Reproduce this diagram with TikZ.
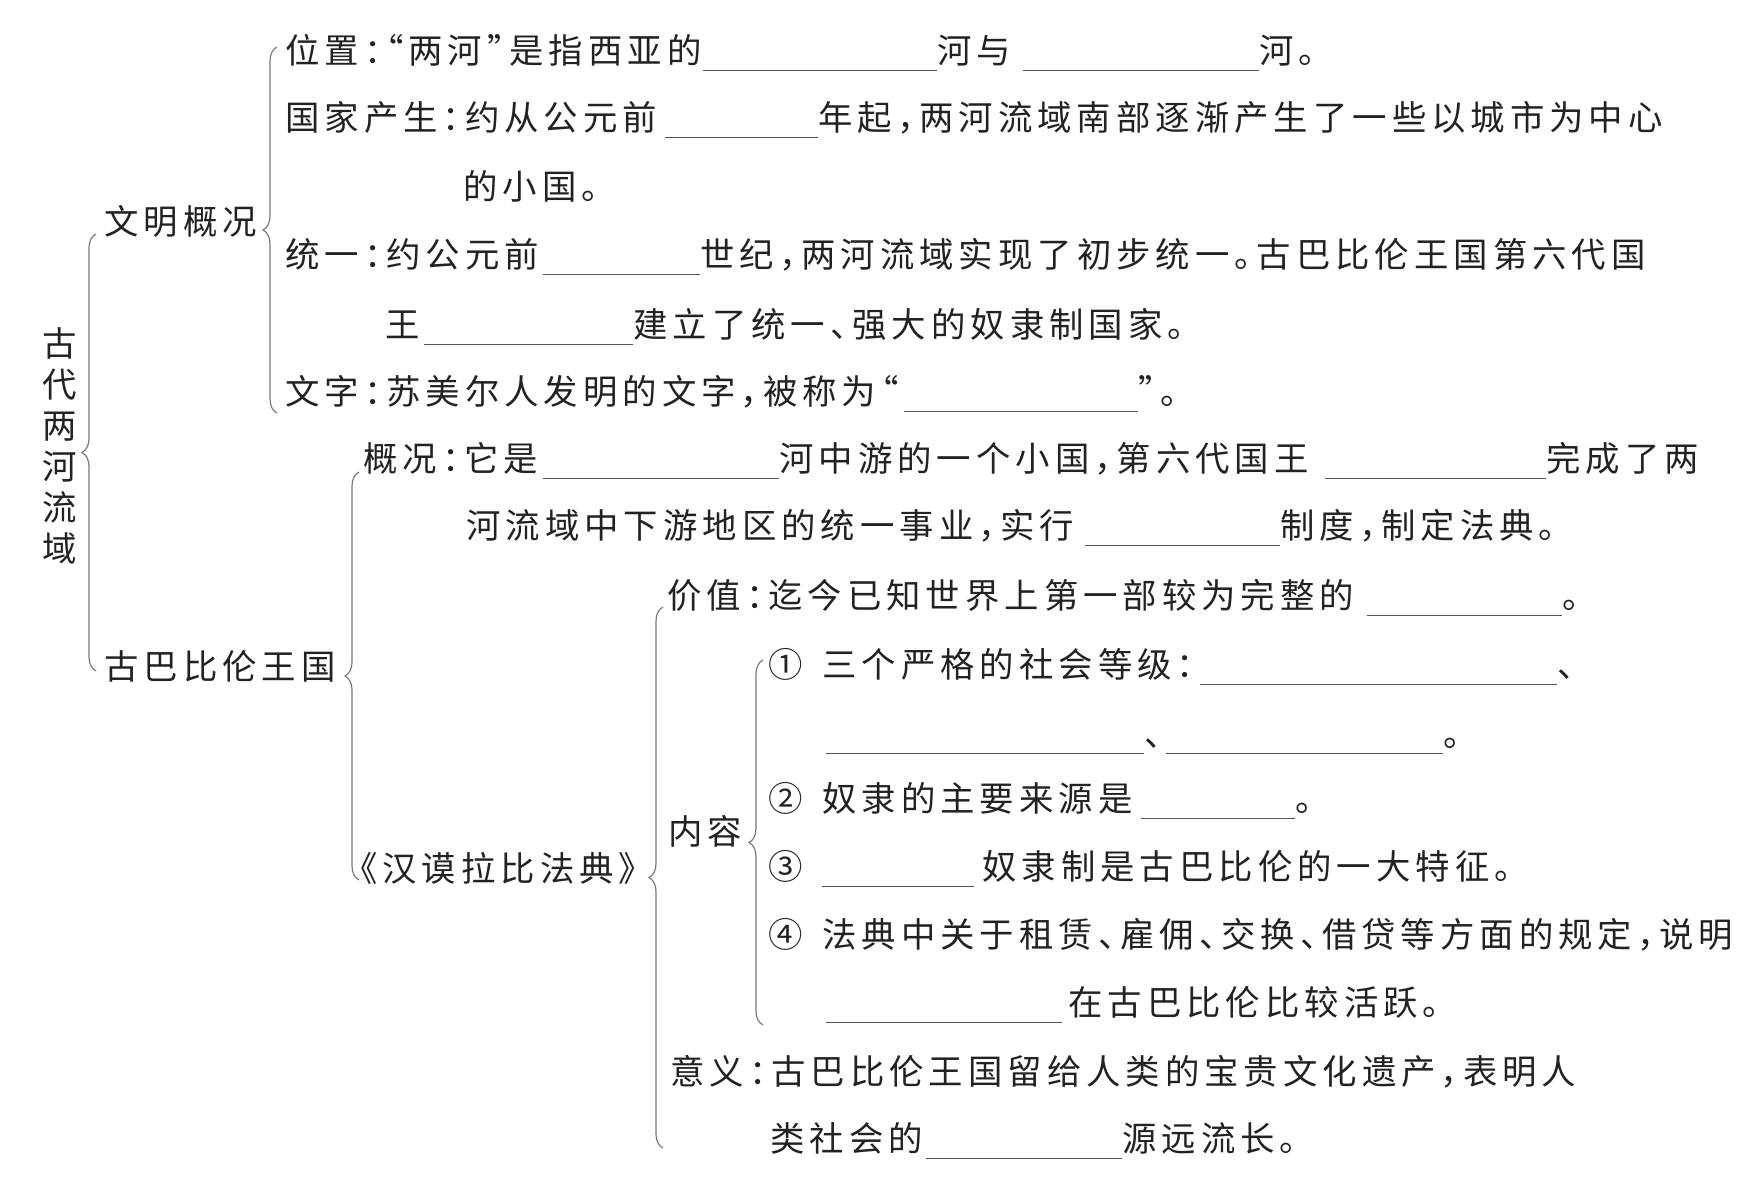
\documentclass[tikz,border=0pt]{standalone}
\usepackage{fontspec}
\setmainfont{Noto Sans CJK SC}[LetterSpace=14.5,RawFeature=+halt]
\usetikzlibrary{calc,decorations.pathreplacing}

\definecolor{ink}{HTML}{222222}
\definecolor{brcol}{HTML}{7A7A7A}
\definecolor{lncol}{HTML}{555555}

% one unit = one pixel of the sheet
\newlength{\pxu}\setlength{\pxu}{0.5pt}
\newcommand{\seg}[2]{\makebox[#1\pxu][l]{#2}}
\newcommand{\blank}[1]{\rlap{\color{lncol}\rule[-4pt]{#1\pxu}{0.7pt}}\hspace*{#1\pxu}}

\begin{document}
\begin{tikzpicture}[
  x=0.5pt, y=-0.5pt,
  txt/.style={
    anchor=base west,
    inner sep=0pt,
    text=ink,
    font=\fontsize{17.2}{20}\selectfont
  },
  brc/.style={draw=brcol, line width=0.6pt, decorate, decoration={brace, amplitude=7pt}}
]
\useasboundingbox (0,0) rectangle (1750,1178);

% topic and headings
\node[anchor=center, inner sep=0pt, text=ink, align=center,
  font=\fontsize{17.2}{20.5}\selectfont] (root) at (60,446) {古\\代\\两\\河\\流\\域};
\node[txt] (civ) at (104,234) {文明概况};
\node[txt] (bab) at (104,679) {古巴比伦王国};
\node[txt] (code) at (360,881) {《汉谟拉比法典》};
\node[txt] (cont) at (668,844) {内容};

% civilisation
\node[txt] (loc) at (285,63) {\seg{418}{位置：“两河”是指西亚的}\blank{234}\seg{86}{河与}\blank{236}河。};
\node[txt] (ctry) at (285,130) {\seg{380}{国家产生：约从公元前}\blank{153}年起，两河流域南部逐渐产生了一些以城市为中心};
\node[txt] (ctry2) at (463,199) {的小国。};
\node[txt] (unif) at (285,267) {\seg{258}{统一：约公元前}\blank{157}世纪，两河流域实现了初步统一。古巴比伦王国第六代国};
\node[txt] (unif2) at (385,337) {\seg{39}{王}\blank{209}建立了统一、强大的奴隶制国家。};
\node[txt] (script) at (285,404) {\seg{619}{文字：苏美尔人发明的文字，被称为“}\blank{234}”。};

% kingdom
\node[txt] (gk) at (363,471) {\seg{180}{概况：它是}\blank{236}\seg{546}{河中游的一个小国，第六代国王}\blank{221}完成了两};
\node[txt] (gk2) at (466,538) {\seg{619}{河流域中下游地区的统一事业，实行}\blank{195}制度，制定法典。};

% the code
\node[txt] (val) at (667,608) {\seg{700}{价值：迄今已知世界上第一部较为完整的}\blank{195}。};
\node[txt] (c1) at (768,677) {\seg{54}{①}\seg{378}{三个严格的社会等级：}\blank{357}、};
\node[txt] (c1b) at (826,746) {\blank{318}\seg{22}{、}\blank{277}。};
\node[txt] (c2) at (768,811) {\seg{54}{②}\seg{319}{奴隶的主要来源是}\blank{154}。};
\node[txt] (c3) at (768,879) {\seg{54}{③}\blank{152}\hspace*{4pt}奴隶制是古巴比伦的一大特征。};
\node[txt] (c4) at (768,947) {\seg{54}{④}法典中关于租赁、雇佣、交换、借贷等方面的规定，说明};
\node[txt] (c4b) at (826,1015) {\blank{236}\hspace*{3pt}在古巴比伦比较活跃。};
\node[txt] (mean) at (670,1084) {意义：古巴比伦王国留给人类的宝贵文化遗产，表明人};
\node[txt] (mean2) at (770,1151) {\seg{156}{类社会的}\blank{196}源远流长。};

% braces
\draw[brc] ($(bab.base west)+(-8,-8)$) -- ($(civ.base west)+(-8,0)$);
\draw[brc] ($(script.base west)+(-8,9)$) -- ($(loc.base west)+(-8,-16)$);
\draw[brc] ($(gk.base west |- code.base)+(-4,-1)$) -- ($(gk.base west)+(-4,1)$);
\draw[brc] ($(val.base west |- mean2.base)+(-4,-3)$) -- ($(val.base west)+(-4,-1)$);
\draw[brc] ($(c1.base west |- c4b.base)+(-5,10)$) -- ($(c1.base west)+(-5,-17)$);

\end{tikzpicture}
\end{document}
